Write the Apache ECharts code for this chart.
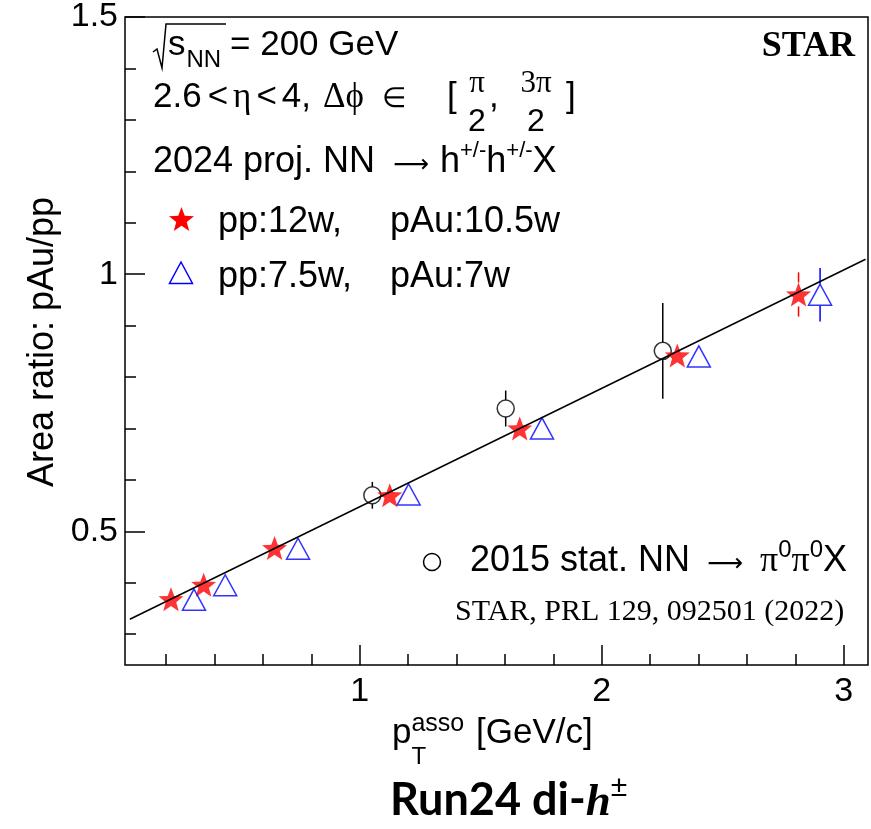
<!DOCTYPE html>
<html>
<head>
<meta charset="utf-8">
<script src="https://cdn.jsdelivr.net/npm/echarts@6/dist/echarts.min.js"></script>
<style>
  html, body { margin: 0; padding: 0; background: #ffffff; }
  #chart { width: 871px; height: 829px; }
</style>
</head>
<body>
<div id="chart"></div>
<script>
// Area ratio pAu/pp versus associated-particle pT (GeV/c)
const starX   = [0.22, 0.355, 0.648, 1.124, 1.661, 2.312, 2.813];
const starY   = [0.368, 0.396, 0.4675, 0.570, 0.700, 0.842, 0.9605];
const starErr = [0.010, 0.010, 0.010, 0.012, 0.015, 0.018, 0.043];

const triX    = [0.315, 0.444, 0.745, 1.202, 1.753, 2.401, 2.902];
const triY    = [0.367, 0.395, 0.466, 0.5716, 0.700, 0.840, 0.960];
const triErr  = [0.010, 0.010, 0.010, 0.012, 0.015, 0.018, 0.052];

const circX   = [1.052, 1.603, 2.252];
const circY   = [0.570, 0.7387, 0.8508];
const circErr = [0.026, 0.035, 0.093];

// straight-line fit, end points
const fitX = [0.05, 3.09];
const fitY = [0.329, 1.029];

const xRange = [0.03, 3.1];
const yRange = [0.24, 1.5];
const xMajor = [1, 2, 3];
const xMinor = [0.2, 0.4, 0.6, 0.8, 1.2, 1.4, 1.6, 1.8, 2.2, 2.4, 2.6, 2.8];
const yMajor = [0.5, 1, 1.5];
const yMinor = [0.3, 0.4, 0.6, 0.7, 0.8, 0.9, 1.1, 1.2, 1.3, 1.4];

const SANS  = '"Liberation Sans", Arial, Helvetica, sans-serif';
const SERIF = '"Liberation Serif", "Times New Roman", serif';
const ARROW = '"DejaVu Sans", sans-serif';
const CAL   = 'Lato, "Open Sans", sans-serif';

// five-pointed star outline in a 100-unit box
const STAR_PTS = [[50,0],[62.34,33.01],[97.55,34.55],[69.97,56.49],[79.39,90.45],
                  [50,71],[20.61,90.45],[30.03,56.49],[2.45,34.55],[37.66,33.01]];
const STAR_PATH = 'path://M' + STAR_PTS.map(p => p[0] + ',' + p[1]).join('L') + 'Z';
function starPolygon(x, y, w, h) {
  return STAR_PTS.map(p => [x + (p[0] - 2.45) / 95.1 * w, y + p[1] / 90.45 * h]);
}

// ---- text layout helpers (baseline-positioned runs of text) ----
const mctx = document.createElement('canvas').getContext('2d');
function baseOffset(font) {
  mctx.font = font;
  mctx.textBaseline = 'alphabetic';
  const a = mctx.measureText('H').actualBoundingBoxAscent;
  mctx.textBaseline = 'middle';
  const m = mctx.measureText('H').actualBoundingBoxAscent;
  mctx.textBaseline = 'alphabetic';
  return a - m;
}
function textRun(x, base, parts, out) {
  let cx = x;
  parts.forEach(p => {
    const size = p.size || 35, fam = p.fam || SANS;
    const font = (p.st || 'normal') + ' ' + (p.wt || 'normal') + ' ' + size + 'px ' + fam;
    mctx.font = font;
    const w = mctx.measureText(p.t).width;
    if (p.at != null) cx = p.at;
    cx += (p.dx || 0);
    let left = cx;
    if (p.center) left = cx - w / 2;
    if (p.right) left = cx - w;
    out.push({
      type: 'text', silent: true, z: 100,
      x: left, y: base + (p.dy || 0) - baseOffset(font),
      style: { text: p.t, font: font, fill: p.fill || '#000',
               align: 'left', verticalAlign: 'middle',
               textAlign: 'left', textVerticalAlign: 'middle' }
    });
    if (!p.noAdv) cx = left + w;
  });
  return cx;
}

const g = [];
// sqrt(s_NN) = 200 GeV
g.push({ type: 'polyline', silent: true, z: 100,
  shape: { points: [[153, 52], [157, 49], [162, 68], [166, 24], [226, 24]] },
  style: { stroke: '#000', lineWidth: 1.5, fill: null } });
textRun(0, 55, [
  { t: 's', at: 168 },
  { t: 'NN', size: 24, dy: 12, dx: 1 },
  { t: '= 200 GeV', at: 230 }
], g);
// eta, delta-phi range
textRun(0, 107, [
  { t: '2.6', at: 153 },
  { t: '<', dx: 6 },
  { t: 'η', dx: 5, fam: SERIF },
  { t: '<', dx: 5 },
  { t: '4,', dx: 5 },
  { t: 'Δϕ', at: 323, fam: SERIF },
  { t: '∈', at: 382, size: 28, fam: SERIF },
  { t: '[', at: 447 }
], g);
textRun(0, 92, [{ t: 'π', at: 477, center: true, size: 31, fam: SERIF },
                { t: '3π', at: 536, center: true, size: 31, fam: SERIF }], g);
textRun(0, 131, [{ t: '2', at: 477, center: true, size: 32 },
                 { t: '2', at: 536, center: true, size: 32 }], g);
textRun(0, 107, [{ t: ',', at: 489 }, { t: ']', at: 566 }], g);
// projection line
textRun(0, 172, [
  { t: '2024 proj. NN', at: 153, size: 36 },
  { t: '⟶', at: 393, size: 25, fam: ARROW },
  { t: 'h', at: 440, size: 36 },
  { t: '+/-', size: 22, dy: -15 },
  { t: 'h', size: 36 },
  { t: '+/-', size: 22, dy: -15 },
  { t: 'X', size: 36 }
], g);
// legend entries
g.push({ type: 'polygon', silent: true, z: 100,
  shape: { points: starPolygon(169, 207, 25, 24) },
  style: { fill: '#ff0000' } });
textRun(0, 232, [{ t: 'pp:12w,', at: 218, size: 36 }, { t: 'pAu:10.5w', at: 390, size: 36 }], g);
g.push({ type: 'polygon', silent: true, z: 100,
  shape: { points: [[181, 262], [192.5, 283.5], [169.5, 283.5]] },
  style: { fill: null, stroke: '#0000ff', lineWidth: 1.5 } });
textRun(0, 287, [{ t: 'pp:7.5w,', at: 218, size: 36 }, { t: 'pAu:7w', at: 390, size: 36 }], g);

g.push({ type: 'circle', silent: true, z: 100,
  shape: { cx: 432, cy: 562, r: 8.5 },
  style: { fill: null, stroke: '#000', lineWidth: 1.5 } });
textRun(0, 571, [
  { t: '2015 stat. NN', at: 470, size: 36 },
  { t: '⟶', dx: 17, size: 25, fam: ARROW },
  { t: 'π', dx: 17, size: 36, fam: SERIF },
  { t: '0', size: 24, dy: -14 },
  { t: 'π', size: 36, fam: SERIF },
  { t: '0', size: 24, dy: -14 },
  { t: 'X', size: 36 }
], g);
textRun(0, 620, [{ t: 'STAR, PRL 129, 092501 (2022)', at: 455, size: 30, fam: SERIF }], g);
textRun(0, 56, [{ t: 'STAR', at: 855, right: true, size: 36, fam: SERIF, wt: 'bold' }], g);

// axis titles
g.push({ type: 'text', silent: true, z: 100, x: 43, y: 342, rotation: Math.PI / 2,
  style: { text: 'Area ratio: pAu/pp', font: 'normal normal 36px ' + SANS, fill: '#000',
           align: 'center', verticalAlign: 'middle', textAlign: 'center', textVerticalAlign: 'middle' } });
textRun(0, 743, [
  { t: 'p', at: 392 },
  { t: 'T', size: 24, dy: 21, noAdv: true },
  { t: 'asso', size: 25, dy: -12 },
  { t: '[GeV/c]', at: 476 }
], g);
textRun(0, 815, [
  { t: 'Run24 di-', at: 390, size: 45, fam: CAL, wt: 'bold' },
  { t: 'h', size: 45, fam: SERIF, wt: 'bold', st: 'italic' },
  { t: '±', size: 30, dy: -19 }
], g);

// ---- series helpers ----
function errorBars(xs, ys, es, color, gap) {
  return {
    type: 'custom', silent: true, z: 3,
    data: xs.map((x, i) => [x, ys[i], es[i]]),
    renderItem: function (params, api) {
      const x = api.value(0), y = api.value(1), e = api.value(2);
      const c = api.coord([x, y]);
      const top = api.coord([x, y + e])[1];
      const bot = api.coord([x, y - e])[1];
      const kids = [];
      const st = { stroke: color, lineWidth: 1.5 };
      if (c[1] - top > gap) kids.push({ type: 'line', shape: { x1: c[0], y1: top, x2: c[0], y2: c[1] - gap }, style: st });
      if (bot - c[1] > gap) kids.push({ type: 'line', shape: { x1: c[0], y1: c[1] + gap, x2: c[0], y2: bot }, style: st });
      return { type: 'group', children: kids };
    }
  };
}

const tickStyle = { color: '#000', width: 1.5 };
const labelFont = { color: '#000', fontSize: 34, fontFamily: SANS };

const option = {
  animation: false,
  backgroundColor: '#ffffff',
  grid: { left: 125, right: 3, top: 17, bottom: 164, show: true,
          borderColor: '#000', borderWidth: 1.5, backgroundColor: 'transparent' },
  xAxis: [
    { type: 'value', min: xRange[0], max: xRange[1], position: 'bottom', offset: 0,
      axisLine: { show: false }, splitLine: { show: false },
      axisTick: { show: true, inside: true, length: 20, customValues: xMajor, lineStyle: tickStyle },
      axisLabel: Object.assign({ show: true, customValues: xMajor, margin: 10,
                                 formatter: v => String(v) }, labelFont) },
    { type: 'value', min: xRange[0], max: xRange[1], position: 'bottom', offset: 0,
      axisLine: { show: false }, splitLine: { show: false },
      axisTick: { show: true, inside: true, length: 11, customValues: xMinor, lineStyle: tickStyle },
      axisLabel: { show: false } }
  ],
  yAxis: [
    { type: 'value', min: yRange[0], max: yRange[1], position: 'left', offset: 0,
      axisLine: { show: false }, splitLine: { show: false },
      axisTick: { show: true, inside: true, length: 20, customValues: yMajor, lineStyle: tickStyle },
      axisLabel: Object.assign({ show: true, customValues: yMajor, margin: 7,
                                 formatter: v => String(v) }, labelFont) },
    { type: 'value', min: yRange[0], max: yRange[1], position: 'left', offset: 0,
      axisLine: { show: false }, splitLine: { show: false },
      axisTick: { show: true, inside: true, length: 11, customValues: yMinor, lineStyle: tickStyle },
      axisLabel: { show: false } }
  ],
  series: [
    errorBars(circX, circY, circErr, '#000000', 8.5),
    errorBars(starX, starY, starErr, '#ff0000', 12),
    errorBars(triX, triY, triErr, '#0000ff', 11),
    { name: '2015 stat.', type: 'scatter', z: 4, silent: true,
      data: circX.map((x, i) => [x, circY[i]]),
      symbol: 'circle', symbolSize: 17,
      itemStyle: { color: 'rgba(0,0,0,0)', borderColor: '#000000', borderWidth: 1.5 } },
    { name: 'pp:12w, pAu:10.5w', type: 'scatter', z: 5, silent: true,
      data: starX.map((x, i) => [x, starY[i]]),
      symbol: STAR_PATH, symbolSize: [25, 24],
      itemStyle: { color: '#ff0000' } },
    { name: 'pp:7.5w, pAu:7w', type: 'scatter', z: 6, silent: true,
      data: triX.map((x, i) => [x, triY[i]]),
      symbol: 'triangle', symbolSize: [23, 21],
      itemStyle: { color: 'rgba(0,0,0,0)', borderColor: '#0000ff', borderWidth: 1.5 } },
    { name: 'fit', type: 'line', z: 7, silent: true,
      data: fitX.map((x, i) => [x, fitY[i]]),
      symbol: 'none', lineStyle: { color: '#000000', width: 1.5 } }
  ],
  graphic: g
};

const chart = echarts.init(document.getElementById('chart'), null, { renderer: 'canvas' });
chart.setOption(option);
</script>
</body>
</html>
